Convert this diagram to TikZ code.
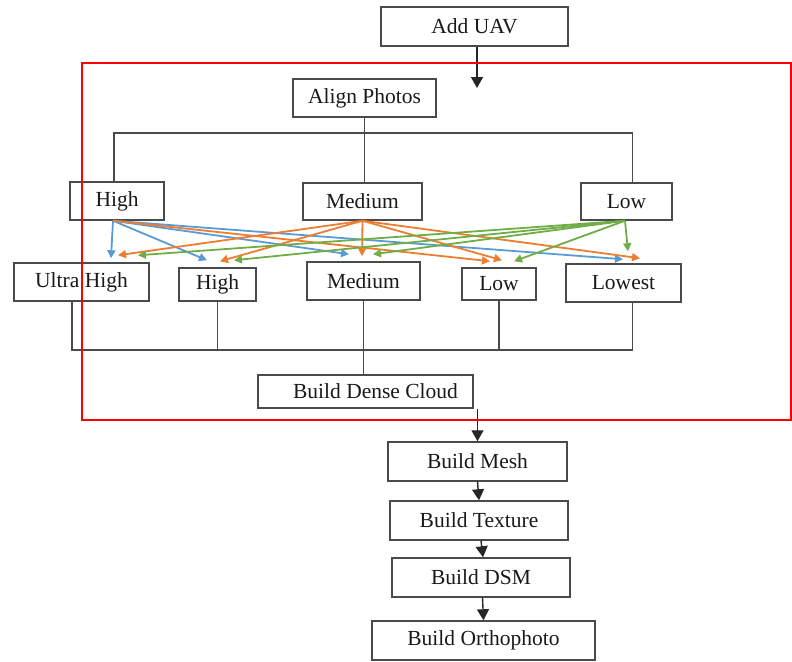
\documentclass[tikz,border=0pt]{standalone}
\usepackage{fontspec}
\setmainfont{Liberation Serif}
\usetikzlibrary{arrows.meta}
\definecolor{cblue}{HTML}{5B9BD5}
\definecolor{corange}{HTML}{ED7D31}
\definecolor{cgreen}{HTML}{70AD47}
\definecolor{boxgray}{HTML}{4A4A4A}
\begin{document}
\begin{tikzpicture}[x=1pt,y=-1pt,
  box/.style={draw=boxgray,line width=1.5pt,inner sep=0pt,font=\fontsize{21.5}{24}\selectfont,text=black!90},
  blk/.style={draw=black!85,line width=1.4pt,-{Triangle[length=11pt,width=12pt]}},
  tree/.style={draw=boxgray,line width=1.4pt},
  carrow/.style={line width=1.8pt,-{Triangle[length=8pt,width=8pt]}},
]
\useasboundingbox (0,0) rectangle (792,661);

% boxes
\node[box,minimum width=187pt,minimum height=39pt] (uav) at (474.5,26.5) {Add UAV};
\node[box,minimum width=143pt,minimum height=38pt] (align) at (364.5,98) {Align Photos};
\node[box,minimum width=94pt,minimum height=38pt] (hi1) at (117,201) {High};
\node[box,minimum width=119pt,minimum height=37pt] (me1) at (362.5,201.5) {Medium};
\node[box,minimum width=91pt,minimum height=37pt] (lo1) at (626.5,201.5) {Low};
\node[box,minimum width=135pt,minimum height=38pt] (uh) at (81.5,282) {Ultra High};
\node[box,minimum width=77pt,minimum height=33pt] (hi2) at (217.5,284.5) {High};
\node[box,minimum width=113pt,minimum height=38pt] (me2) at (363.5,281) {Medium};
\node[box,minimum width=74pt,minimum height=32pt] (lo2) at (499,284) {Low};
\node[box,minimum width=115pt,minimum height=38pt] (lw) at (623.5,283) {Lowest};
\node[box,minimum width=215pt,minimum height=33pt] (dense) at (365.5,391.5) {\hspace*{20pt}Build Dense Cloud};
\node[box,minimum width=179pt,minimum height=39pt] (mesh) at (477.5,461.5) {Build Mesh};
\node[box,minimum width=178pt,minimum height=39pt] (tex) at (479,520.5) {Build Texture};
\node[box,minimum width=178pt,minimum height=39pt] (dsm) at (481,577.5) {Build DSM};
\node[box,minimum width=223pt,minimum height=39pt] (ortho) at (483.5,640.5) {Build Orthophoto};

% tree connectors (top)
\coordinate (busT) at (364,133);
\draw[tree] (align.south) -- (align.south |- me1.north);
\draw[tree] ([xshift=-3pt]hi1.north) |- ([xshift=6pt]lo1.north |- busT) -- ([xshift=6pt]lo1.north);

% tree connectors (bottom)
\coordinate (busB) at (72,350);
\draw[tree] ([xshift=-9.5pt]uh.south) |- ([xshift=9pt]lw.south |- busB) -- ([xshift=9pt]lw.south);
\draw[tree] (hi2.south) -- (hi2.south |- busB);
\draw[tree] (lo2.south) -- (lo2.south |- busB);
\draw[tree] (me2.south) -- (me2.south |- dense.north);

% black arrows
\coordinate (uavend) at (477,88);
\draw[blk] (uav.south -| uavend) -- (uavend);
\draw[blk] (mesh.north |- dense.south) -- (mesh.north);
\draw[blk] (mesh.south) -- (tex.north);
\draw[blk] ([xshift=2pt]tex.south) -- ([xshift=2pt]dsm.north);
\draw[blk] ([xshift=1.5pt]dsm.south) -- (ortho.north);

% blue arrows from High
\draw[carrow,cblue] ([xshift=-4pt]hi1.south) -- ([xshift=29.5pt,yshift=4pt]uh.north);
\draw[carrow,cblue] ([xshift=-4pt]hi1.south) -- ([xshift=-10.5pt,yshift=7pt]hi2.north);
\draw[carrow,cblue] ([xshift=-4pt]hi1.south) -- ([xshift=-14.5pt,yshift=7pt]me2.north);
\draw[carrow,cblue] ([xshift=-4pt]hi1.south) -- ([xshift=-0.5pt,yshift=4pt]lw.north);
% orange arrow from High
\draw[carrow,corange] ([xshift=-4pt]hi1.south) -- ([xshift=-9pt,yshift=6pt]lo2.north);

% orange arrows from Medium
\draw[carrow,corange] (me1.south) -- ([xshift=36.5pt,yshift=7pt]uh.north);
\draw[carrow,corange] (me1.south) -- ([xshift=2.5pt,yshift=6pt]hi2.north);
\draw[carrow,corange] (me1.south) -- ([xshift=-1.5pt,yshift=5pt]me2.north);
\draw[carrow,corange] (me1.south) -- ([xshift=3pt,yshift=7pt]lo2.north);
\draw[carrow,corange] (me1.south) -- ([xshift=16.5pt,yshift=5pt]lw.north);

% green arrows from Low
\draw[carrow,cgreen] ([xshift=-1.5pt]lo1.south) -- ([xshift=56.5pt,yshift=7pt]uh.north);
\draw[carrow,cgreen] ([xshift=-1.5pt]lo1.south) -- ([xshift=16.5pt,yshift=7pt]hi2.north);
\draw[carrow,cgreen] ([xshift=-1.5pt]lo1.south) -- ([xshift=9.5pt,yshift=7pt]me2.north);
\draw[carrow,cgreen] ([xshift=-1.5pt]lo1.south) -- ([xshift=15pt,yshift=6pt]lo2.north);
\draw[carrow,cgreen] ([xshift=-1.5pt]lo1.south) -- ([xshift=1.5pt,yshift=12pt]lo1.south |- lw.north);

% red frame
\draw[red,line width=1.4pt] (82,63) rectangle (791,420);
\end{tikzpicture}
\end{document}
